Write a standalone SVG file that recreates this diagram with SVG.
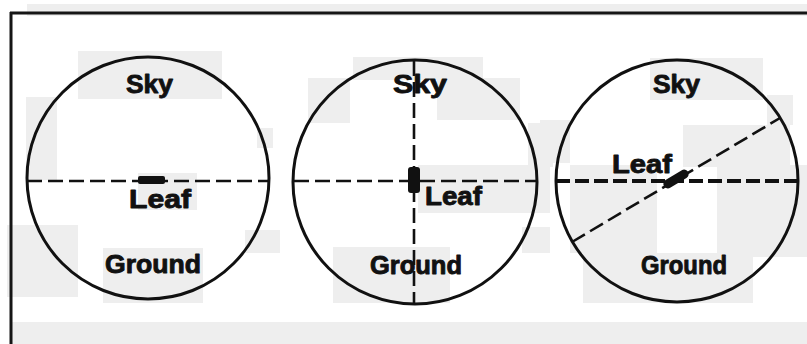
<svg xmlns="http://www.w3.org/2000/svg" width="807" height="344" viewBox="0 0 807 344">
<style>
.bg{fill:#ffffff}
.patch{fill:#eeeeee}
.frame{stroke:#151515;stroke-width:3;fill:none}
.ring{fill:none;stroke:#111;stroke-width:3}
.dash{fill:none;stroke:#111;stroke-width:2.6;stroke-dasharray:15 6}
.dashb{fill:none;stroke:#111;stroke-width:4;stroke-dasharray:14 5}
.leafmark{fill:#111}
text{font-family:"Liberation Sans",Arial,sans-serif;font-weight:bold;font-size:26px;fill:#111;stroke:#111;stroke-width:0.9;stroke-linejoin:round}
</style>
<rect class="bg" x="0" y="0" width="807" height="344"/>
<g id="scan-tone">
<rect class="patch" x="27" y="4" width="780" height="12"/>
<rect class="patch" x="10" y="322" width="797" height="22"/>
<rect class="patch" x="78" y="51" width="144" height="48"/>
<rect class="patch" x="26" y="97" width="31" height="83"/>
<rect class="patch" x="257" y="128" width="16" height="20"/>
<rect class="patch" x="7" y="225" width="71" height="72"/>
<rect class="patch" x="103" y="248" width="100" height="55"/>
<rect class="patch" x="245" y="230" width="35" height="23"/>
<rect class="patch" x="138" y="173" width="59" height="37"/>
<rect class="patch" x="353" y="57" width="130" height="23"/>
<rect class="patch" x="308" y="78" width="42" height="45"/>
<rect class="patch" x="437" y="78" width="83" height="42"/>
<rect class="patch" x="528" y="123" width="25" height="44"/>
<rect class="patch" x="418" y="165" width="132" height="48"/>
<rect class="patch" x="522" y="227" width="28" height="26"/>
<rect class="patch" x="333" y="247" width="117" height="56"/>
<rect class="patch" x="650" y="58" width="113" height="42"/>
<rect class="patch" x="540" y="120" width="30" height="43"/>
<rect class="patch" x="767" y="95" width="26" height="30"/>
<rect class="patch" x="683" y="125" width="107" height="42"/>
<rect class="patch" x="570" y="165" width="87" height="88"/>
<rect class="patch" x="717" y="165" width="90" height="92"/>
<rect class="patch" x="583" y="253" width="170" height="50"/>
</g>
<g id="frame">
<path class="frame" d="M10 13 H807 M11 12 V344"/>
</g>
<g id="connectors">
<line class="dash" x1="27" y1="181" x2="269" y2="181"/>
<line class="dash" x1="294" y1="181" x2="537" y2="181"/>
<line class="dash" x1="414" y1="61" x2="414" y2="303" stroke-dasharray="16 4 14 6"/>
<line class="dashb" x1="556" y1="181" x2="798" y2="181"/>
<line class="dash" x1="572" y1="242" x2="780" y2="118" stroke-width="3" stroke-dasharray="15 8"/>
</g>
<g id="view-horizontal">
<circle class="ring" cx="148" cy="178" r="121"/>
<rect class="leafmark" x="138" y="176" width="27" height="8" rx="2"/>
<text x="126" y="93" textLength="47" lengthAdjust="spacingAndGlyphs">Sky</text>
<text x="129" y="208" textLength="62" lengthAdjust="spacingAndGlyphs">Leaf</text>
<text x="105" y="273" textLength="96" lengthAdjust="spacingAndGlyphs">Ground</text>
</g>
<g id="view-vertical">
<circle class="ring" cx="415" cy="182" r="122"/>
<rect class="leafmark" x="408" y="167" width="12" height="26" rx="3"/>
<text x="393" y="93" textLength="54" lengthAdjust="spacingAndGlyphs">Sky</text>
<text x="425" y="205" textLength="57" lengthAdjust="spacingAndGlyphs">Leaf</text>
<text x="370" y="274" textLength="92" lengthAdjust="spacingAndGlyphs">Ground</text>
</g>
<g id="view-tilted">
<circle class="ring" cx="677" cy="181" r="121"/>
<rect class="leafmark" x="662" y="174.5" width="28" height="9" rx="4.5" transform="rotate(-31 676 179)"/>
<text x="653" y="93" textLength="47" lengthAdjust="spacingAndGlyphs">Sky</text>
<text x="612" y="173" textLength="60" lengthAdjust="spacingAndGlyphs">Leaf</text>
<text x="641" y="274" textLength="86" lengthAdjust="spacingAndGlyphs">Ground</text>
</g>
</svg>
